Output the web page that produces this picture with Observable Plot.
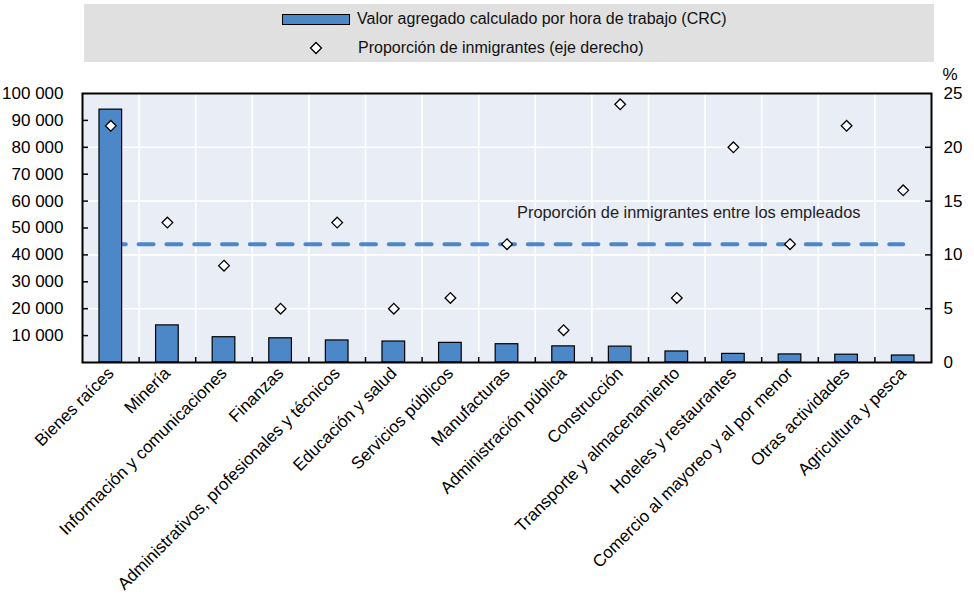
<!DOCTYPE html>
<html>
<head>
<meta charset="utf-8">
<script src="https://cdn.jsdelivr.net/npm/d3@7"></script>
<script src="https://cdn.jsdelivr.net/npm/@observablehq/plot@0.6"></script>
<style>
  html, body { margin: 0; padding: 0; background: #fff; }
  body { width: 974px; height: 594px; overflow: hidden; font-family: "Liberation Sans", Arial, sans-serif; color: #000; }
  #legend { position: relative; height: 50px; z-index: 2; }
  #legend .box { position: absolute; left: 84px; top: 4px; width: 850px; height: 58px; background: #e0e0e0; }
  #legend .item { position: absolute; font-size: 16px; line-height: 20px; white-space: nowrap; color: #111; }
  #legend .swatch { position: absolute; left: 282px; top: 14px; width: 66px; height: 9px; background: #4c87c7; border: 1px solid #000; }
  #legend svg.dia { position: absolute; left: 309px; top: 41px; }
  #chart { position: relative; z-index: 1; }
  #chart svg { display: block; background: transparent; }
</style>
</head>
<body>
<div id="legend">
  <div class="box"></div>
  <div class="swatch"></div>
  <div class="item" style="left:357px; top:9px;">Valor agregado calculado por hora de trabajo (CRC)</div>
  <svg class="dia" width="14" height="14" viewBox="0 0 14 14"><path d="M7,1.5 L12.5,7 L7,12.5 L1.5,7 Z" fill="#fff" stroke="#000" stroke-width="1.3"/></svg>
  <div class="item" style="left:358px; top:38px;">Proporción de inmigrantes (eje derecho)</div>
</div>
<div id="chart"></div>
<script>
// ---- Data ----
const categories = [
  "Bienes raíces",
  "Minería",
  "Información y comunicaciones",
  "Finanzas",
  "Administrativos, profesionales y técnicos",
  "Educación y salud",
  "Servicios públicos",
  "Manufacturas",
  "Administración pública",
  "Construcción",
  "Transporte y almacenamiento",
  "Hoteles y restaurantes",
  "Comercio al mayoreo y al por menor",
  "Otras actividades",
  "Agricultura y pesca"
];
const valueAddedPerHour = [94000, 13800, 9400, 9000, 8200, 7800, 7300, 6800, 6000, 5900, 4100, 3200, 3000, 2900, 2600];
const immigrantShare = [22, 13, 9, 5, 13, 5, 6, 11, 3, 24, 6, 20, 11, 22, 16];
const averageImmigrantShare = 11;
const averageLabel = "Proporción de inmigrantes entre los empleados";
const leftTicks = [10000, 20000, 30000, 40000, 50000, 60000, 70000, 80000, 90000, 100000];
const rightTicks = [0, 5, 10, 15, 20, 25];
const leftMax = 100000;
const rightMax = 25;

// ---- Build ----
const k = leftMax / rightMax; // right-axis (%) to left-axis units
const rows = categories.map((c, i) => ({cat: c, value: valueAddedPerHour[i], share: immigrantShare[i]}));
const avgRows = [categories[0], categories[categories.length - 1]].map(c => ({cat: c, share: averageImmigrantShare}));

const W = 974, H = 544;
const mL = 82, mR = 43, mT = 43, mB = 232;
const plotW = W - mL - mR, plotH = H - mT - mB;
const step = plotW / categories.length;

const fmt = d3.formatLocale({decimal: ",", thousands: " ", grouping: [3], currency: ["", ""]}).format(",");
const blue = "#4c87c7";
const font = '"Liberation Sans", Arial, sans-serif';

const chart = Plot.plot({
  width: W,
  height: H,
  marginLeft: mL, marginRight: mR, marginTop: mT, marginBottom: mB,
  style: {fontFamily: font, fontSize: "17px", color: "#000", background: "transparent"},
  x: {domain: categories, paddingInner: 0.6, paddingOuter: 0.3, round: false, axis: null},
  y: {domain: [0, leftMax], axis: null},
  marks: [
    Plot.frame({fill: "#e9edf5", stroke: null}),
    // white horizontal grid (aligned on right-axis ticks)
    Plot.ruleY(rightTicks.filter(t => t > 0 && t < rightMax).map(t => t * k), {stroke: "#fff", strokeWidth: 1.6}),
    // white vertical grid between categories
    Plot.ruleX(categories.slice(1), {stroke: "#fff", strokeWidth: 1.6, dx: -step / 2}),
    // average immigrant share dashed line
    Plot.lineY(avgRows, {x: "cat", y: d => d.share * k, stroke: blue, strokeWidth: 4, strokeDasharray: "15,12.8"}),
    Plot.text([averageLabel], {x: () => categories[7], y: () => averageImmigrantShare * k, text: d => d, textAnchor: "start", dx: 10, dy: -31, fill: "#222", fontSize: 16.4}),
    Plot.barY(rows, {x: "cat", y: "value", fill: blue, stroke: "#000", strokeWidth: 1.2}),
    // small ticks
    Plot.ruleX(categories.slice(1), {stroke: "#000", strokeWidth: 1.5, dx: -step / 2, insetTop: plotH - 5}),
    Plot.ruleY(leftTicks.filter(t => t < leftMax), {stroke: "#000", strokeWidth: 1.5, insetRight: plotW - 6}),
    Plot.ruleY(rightTicks.filter(t => t > 0 && t < rightMax).map(t => t * k), {stroke: "#000", strokeWidth: 1.5, insetLeft: plotW - 6}),
    Plot.frame({stroke: "#000", strokeWidth: 2}),
    Plot.dot(rows, {x: "cat", y: d => d.share * k, symbol: "diamond2", r: 4.8, fill: "#fff", stroke: "#000", strokeWidth: 1.3}),
    // axes
    Plot.axisY(leftTicks, {anchor: "left", tickSize: 0, tickPadding: 19, tickFormat: fmt, fill: "#000", fontSize: 17, label: null}),
    Plot.axisY(rightTicks.map(t => t * k), {anchor: "right", tickSize: 0, tickPadding: 12, tickFormat: d => String(d / k), fill: "#000", fontSize: 17, label: null}),
    Plot.text(["%"], {frameAnchor: "top-right", text: d => d, dx: 11, dy: -26, textAnchor: "start", fill: "#000", fontSize: 17}),
    Plot.axisX(categories, {anchor: "bottom", tickSize: 0, tickPadding: 8, tickRotate: -45, fill: "#000", fontSize: 17, label: null})
  ]
});
document.getElementById("chart").appendChild(chart);
</script>
</body>
</html>
